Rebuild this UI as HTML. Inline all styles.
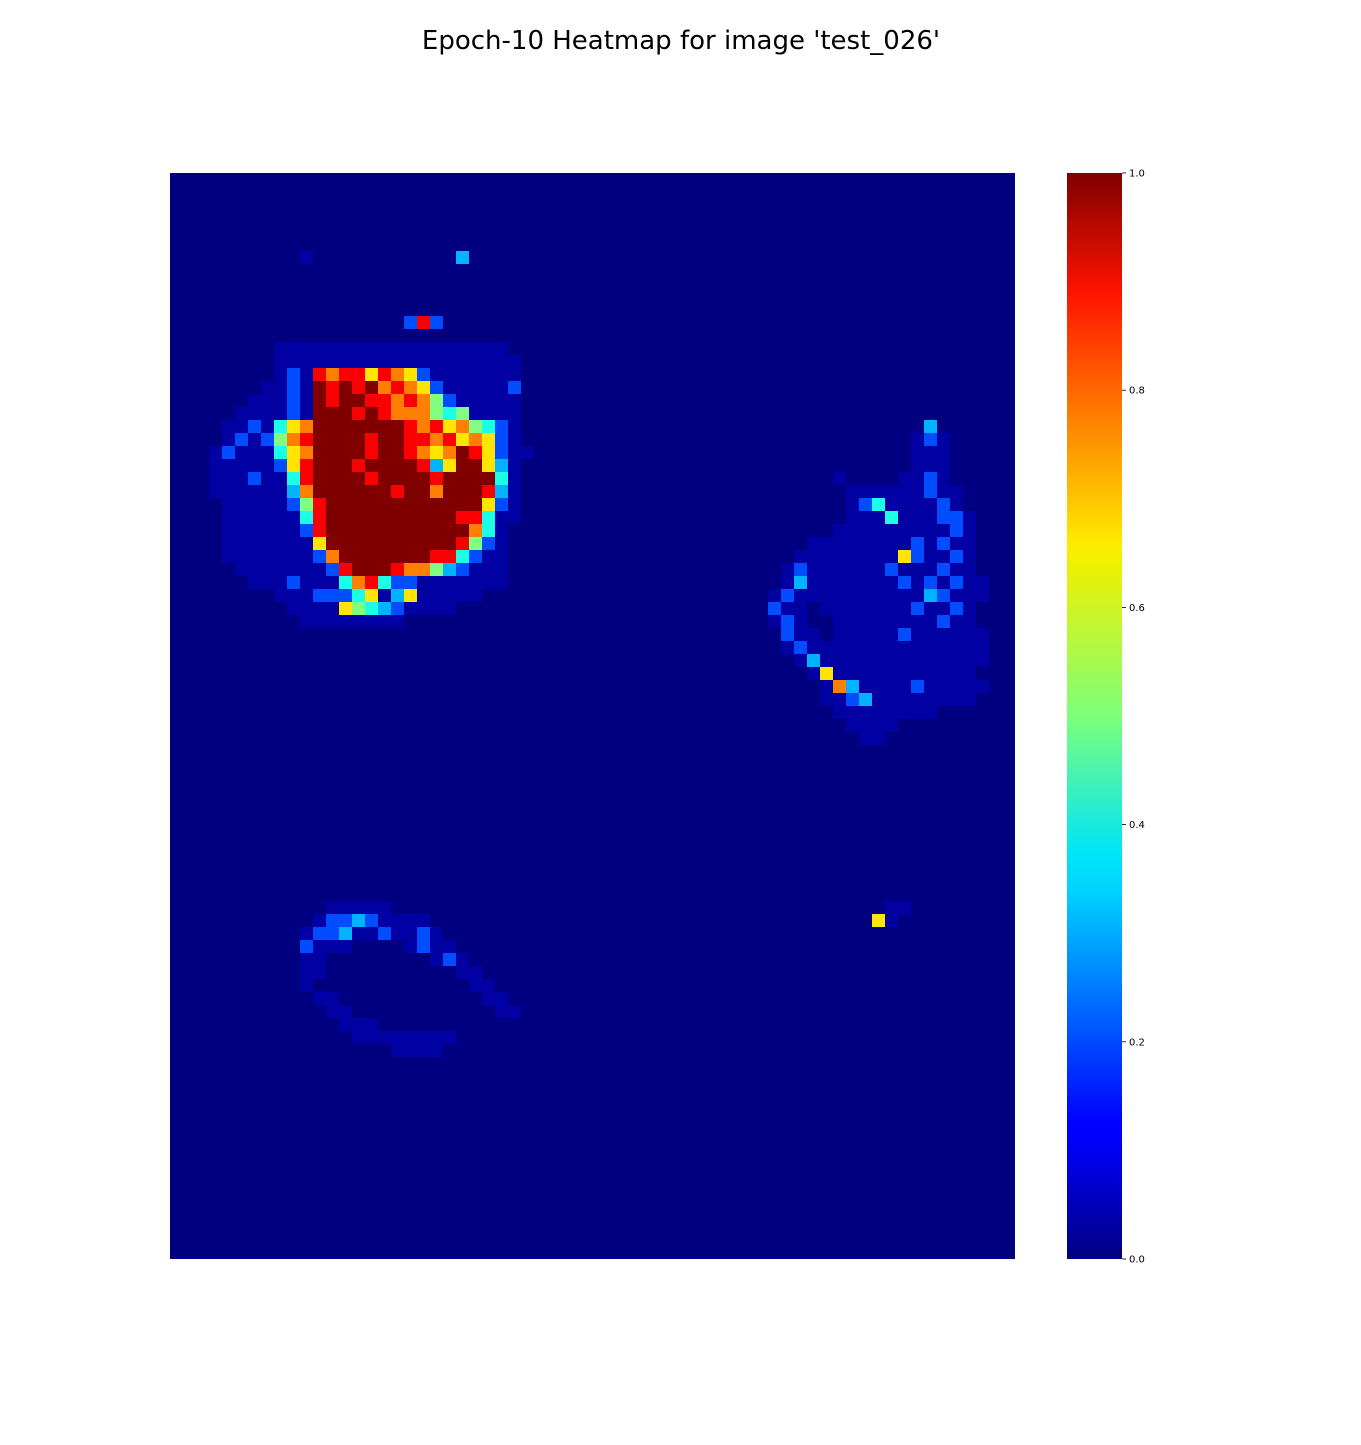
<!DOCTYPE html>
<html><head><meta charset="utf-8">
<style>
html,body{margin:0;padding:0;background:#fff;}
#wrap{position:relative;width:1361px;height:1440px;}
svg text{font-family:"DejaVu Sans","Liberation Sans",sans-serif;}
</style></head>
<body>
<div id="wrap">
<svg id="fig" width="1361" height="1440">
  <text x="681" y="49" text-anchor="middle" font-size="26" fill="#000">Epoch-10 Heatmap for image 'test_026'</text>
  <rect x="170" y="173" width="845" height="1086" fill="#000080"/>
  <g id="cells"></g>
  <defs>
    <linearGradient id="jet" x1="0" y1="1" x2="0" y2="0">
      <stop offset="0" stop-color="#000080"/>
      <stop offset="0.11" stop-color="#0000ff"/>
      <stop offset="0.125" stop-color="#0000ff"/>
      <stop offset="0.34" stop-color="#00d4ff"/>
      <stop offset="0.375" stop-color="#00e5f8"/>
      <stop offset="0.5" stop-color="#7dff7a"/>
      <stop offset="0.64" stop-color="#f0f000"/>
      <stop offset="0.66" stop-color="#ffea00"/>
      <stop offset="0.89" stop-color="#ff1300"/>
      <stop offset="1" stop-color="#7f0000"/>
    </linearGradient>
  </defs>
  <rect x="1067" y="173" width="55" height="1086" fill="url(#jet)"/>
  <g id="cbticks"></g>
</svg>
</div>
<script>
const levels = [0, 0.035, 0.2, 0.3, 0.4, 0.5, 0.65, 0.75, 0.88, 1.0];
const rowIdx = [11,13,14,15,16,17,18,19,20,21,22,23,24,25,26,27,28,29,30,31,32,33,34,
  19,20,21,22,23,24,25,26,27,28,29,30,31,32,33,34,35,36,37,38,39,40,41,42,43,
  56,57,58,59,60,61,62,63,64,65,66,67,
  56,57,6,6];
const startCol = [18,2,2,2,2,2,2,2,2,2,2,2,2,2,2,2,2,2,2,2,2,2,2,
  43,43,43,43,43,43,43,43,43,43,43,43,43,43,43,43,43,43,43,43,43,43,43,43,43,
  7,7,7,7,7,7,7,7,7,7,7,7,
  55,53,10,22];
const rowVals = [
"282",
"00000011111111111111111100",
"00000011111111111111111110",
"00000012187886876211111110",
"00000112198989787621111120",
"00001112198998878752111110",
"00011112199989877754511110",
"00112146799999998786754210",
"00121257899998998878676210",
"01211146799998998767986211",
"01111126899989999836996310",
"01112114899998999989999410",
"01111113799999989979998310",
"00111112589999999999996210",
"00111111489999999999884110",
"00111111289999999999974100",
"00111111169999999999852100",
"00111111127999999988421100",
"00011111112899987753211100",
"00001112111478422111111100",
"00000011122246136111110000",
"00000001111654321111000000",
"00000000111111110000000000",
"00000000000000030000",
"00000000000000121000",
"00000000000000111000",
"00000000000000111000",
"00000000100001121000",
"00000000011111121100",
"00000000012411112100",
"00000000011141112210",
"00000000111111111210",
"00000011111111212110",
"00000111111116211210",
"00001211111121112110",
"00001311111112121211",
"00012111111111132111",
"00021101111111211210",
"00012100111111112110",
"00002110111112111111",
"00001211111111111111",
"00000131111111111111",
"00000016111111111110",
"00000001731111211111",
"00000001123111111110",
"00000000111111110000",
"00000000011110000000",
"00000000001100000000",
"000001111100000000000",
"000012232111100000000",
"000122311211210000000",
"000211100001211000000",
"000110000000012100000",
"000110000000000110000",
"000100000000000011000",
"000011000000000001100",
"000001100000000000110",
"000000111000000000000",
"000000011111111000000",
"000000000011110000000",
"11",
"061",
"1",
"3"];
const cbTicks = [0.0, 0.2, 0.4, 0.6, 0.8, 1.0];
const cbLabels = ["0.0","0.2","0.4","0.6","0.8","1.0"];

const X0=170, Y0=173, W=845, H=1086, CELL=13;
const colX = c => X0 + c*CELL;
const rowY = r => Y0 + r*CELL;
function jet(v){
  const cl = t => Math.max(0, Math.min(1, t));
  const r = cl(1.5 - Math.abs(4*v-3)), g = cl(1.5 - Math.abs(4*v-2)), b = cl(1.5 - Math.abs(4*v-1));
  return `rgb(${Math.round(r*255)},${Math.round(g*255)},${Math.round(b*255)})`;
}
const NS = "http://www.w3.org/2000/svg";
const cells = document.getElementById('cells');
for (let k=0; k<rowIdx.length; k++){
  const s = rowVals[k];
  for (let i=0; i<s.length; i++){
    const d = +s[i];
    if (!d) continue;
    const c = startCol[k] + i, r = rowIdx[k];
    const x = colX(c), y = rowY(r);
    const rect = document.createElementNS(NS,'rect');
    rect.setAttribute('x', x);
    rect.setAttribute('y', y);
    rect.setAttribute('width', Math.min(CELL, X0+W-x));
    rect.setAttribute('height', Math.min(CELL, Y0+H-y));
    rect.setAttribute('fill', jet(levels[d]));
    
    
    cells.appendChild(rect);
  }
}
const cbY = v => Y0 + H - v*H;
const tg = document.getElementById('cbticks');
cbTicks.forEach((v,i)=>{
  const y = cbY(v);
  const ln = document.createElementNS(NS,'line');
  ln.setAttribute('x1',1122); ln.setAttribute('x2',1126);
  ln.setAttribute('y1',y); ln.setAttribute('y2',y);
  ln.setAttribute('stroke','#000'); ln.setAttribute('stroke-width','0.8');
  
  
  tg.appendChild(ln);
  const t = document.createElementNS(NS,'text');
  t.setAttribute('x',1129); t.setAttribute('y',y+3.5);
  t.setAttribute('font-size','10'); t.setAttribute('fill','#000');
  t.textContent = cbLabels[i];
  
  
  tg.appendChild(t);
});
</script>
</body></html>
